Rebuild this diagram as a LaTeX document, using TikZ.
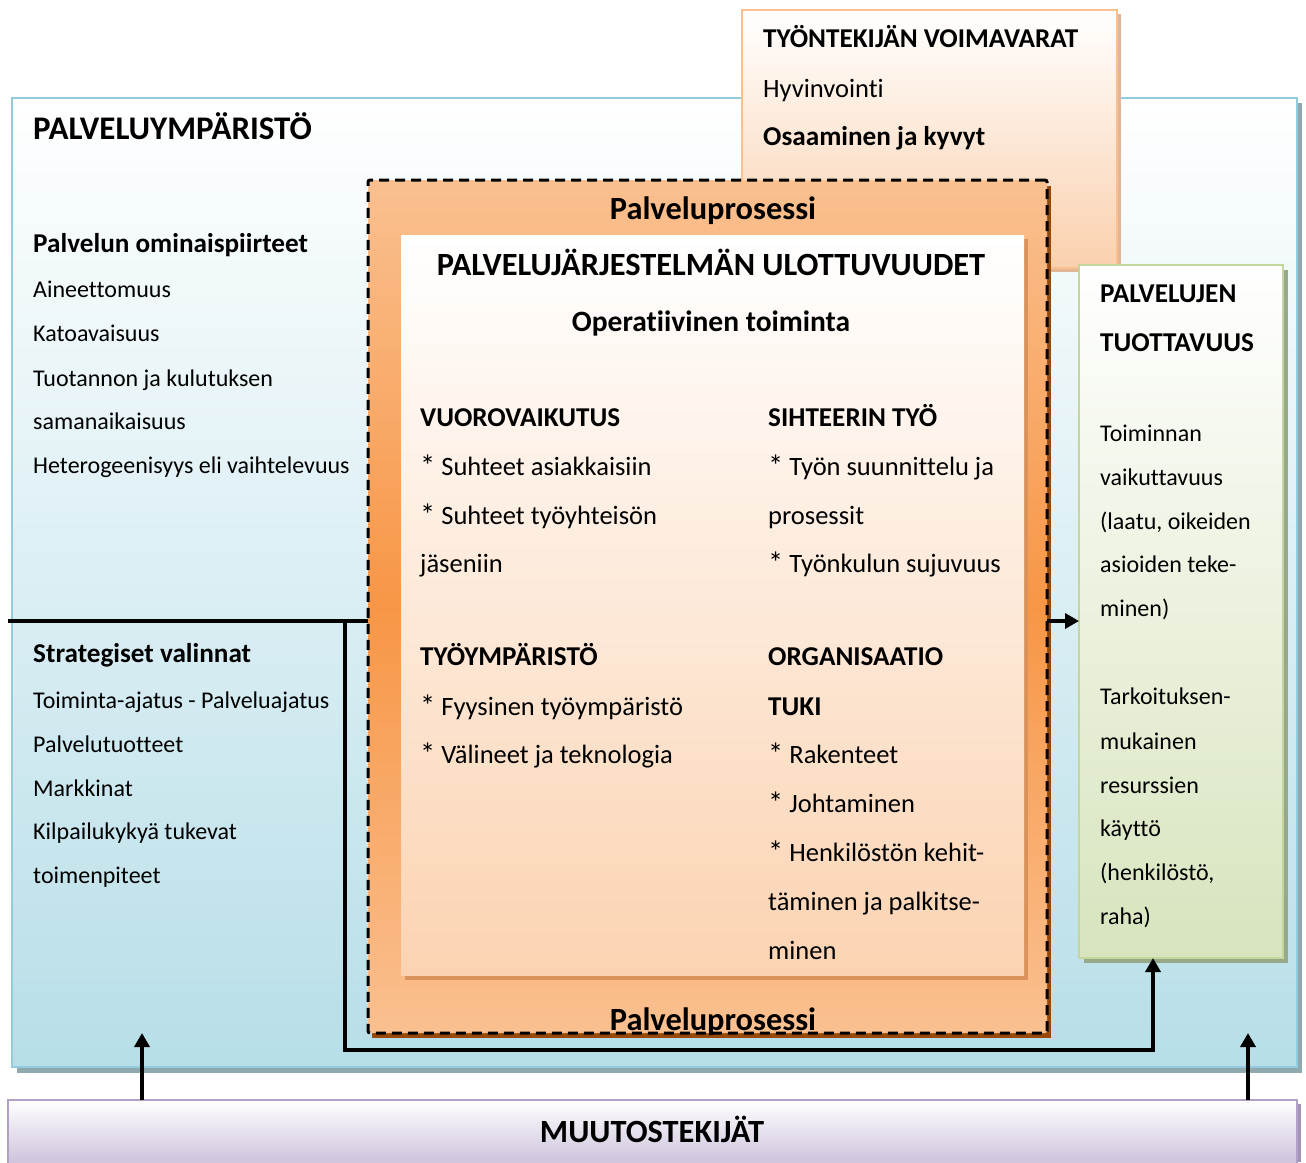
\documentclass[tikz,border=0pt]{standalone}
\usepackage{fontspec}
\usepackage{graphicx}
\setmainfont{Carlito}[Ligatures=NoCommon]
\usetikzlibrary{arrows.meta}
\newcommand\itemstar{\raisebox{-1.5pt}{\scalebox{1.15}{*}}}
\definecolor{envline}{HTML}{93CDDD}
\definecolor{envbot}{HTML}{B7DEE8}
\definecolor{envshadow}{HTML}{8FA9AE}
\definecolor{resline}{HTML}{FAC090}
\definecolor{resbot}{HTML}{FAD0AD}
\definecolor{resshadow}{HTML}{E2B597}
\definecolor{procpale}{HTML}{FAC090}
\definecolor{procdeep}{HTML}{F79646}
\definecolor{procshadow}{HTML}{984807}
\definecolor{dimsbot}{HTML}{FBD3B2}
\definecolor{dimsshadow}{HTML}{D9925A}
\definecolor{prodline}{HTML}{C3D69B}
\definecolor{prodbot}{HTML}{D7E4BD}
\definecolor{prodshadow}{HTML}{97A98A}
\definecolor{chgline}{HTML}{B2A1C7}
\definecolor{chgbot}{HTML}{CCC0DA}
\definecolor{chgshadow}{HTML}{A394B5}
\begin{document}
\begin{tikzpicture}[x=1pt,y=-1pt,
  box/.style={anchor=north west, inner sep=0pt, outer sep=0pt},
  txt/.style={anchor=base west, inner sep=0pt, font=\fontsize{24}{28}\selectfont},
  txtm/.style={anchor=base west, inner sep=0pt, font=\fontsize{26.5}{30}\selectfont},
  txtb/.style={anchor=base west, inner sep=0pt, font=\fontsize{27.2}{30}\selectfont\bfseries},
  ttl/.style={inner sep=0pt, font=\fontsize{32.4}{35}\selectfont\bfseries},
  conn/.style={line width=3.7pt, draw=black},
  arr/.style={conn, -{Triangle[width=15pt,length=14pt]}},
]
\useasboundingbox (0,0) rectangle (1306,1162);

% service environment
\fill[envshadow] (17,103) rectangle (1302,1073);
\node[box, draw=envline, line width=2pt, top color=white, bottom color=envbot,
  minimum width=1285pt, minimum height=969pt] (env) at (12,98) {};

% employee resources
\fill[resshadow] (746,14) rectangle (1121,272);
\node[box, draw=resline, line width=2pt, top color=white, bottom color=resbot,
  minimum width=375pt, minimum height=258pt] (res) at (742,10) {};

% service productivity
\fill[prodshadow] (1084,270) rectangle (1288,963);
\node[box, draw=prodline, line width=2.5pt, top color=white, bottom color=prodbot,
  minimum width=204pt, minimum height=693pt] (prod) at (1079,265) {};

% service process frame
\fill[procshadow] (372,186) rectangle (1051,1038);
\node[box, draw=black, line width=3pt, dash pattern=on 10pt off 6pt, rounded corners=2pt,
  top color=procpale, bottom color=procpale, middle color=procdeep,
  minimum width=679pt, minimum height=853pt] (proc) at (368,180) {};

% dimensions of the service system
\fill[dimsshadow] (405,239) rectangle (1028,980);
\node[box, top color=white, bottom color=dimsbot,
  minimum width=623pt, minimum height=740pt] (dims) at (401,235) {};

% factors of change
\fill[chgshadow] (12,1104) rectangle (1301,1162);
\node[box, draw=chgline, line width=2pt, top color=white, bottom color=chgbot,
  minimum width=1289pt, minimum height=66pt] (chg) at (8,1100) {};

% connectors
\coordinate (lstart) at (8,621);
\coordinate (branch) at (345,621);
\coordinate (turn) at (1153,1050);
\coordinate (upL) at (142,1033);
\coordinate (upR) at (1248,1033);
\draw[conn] (lstart) -- (lstart -| proc.west);
\draw[arr] (branch) |- (turn) -- (turn |- prod.south);
\draw[arr] (proc.east |- lstart) -- (prod.west |- lstart);
\draw[arr] (chg.north -| upL) -- (upL);
\draw[arr] (chg.north -| upR) -- (upR);

% texts: service environment
\node[ttl, anchor=base west, font=\fontsize{33}{35}\selectfont\bfseries] (envT) at (33,139) {PALVELUYMPÄRISTÖ};
\node[txtb] (envA) at (33,252) {Palvelun ominaispiirteet};
\node[txt] (envA1) at (33,297) {Aineettomuus};
\node[txt] (envA2) at (33,341) {Katoavaisuus};
\node[txt] (envA3) at (33,386) {Tuotannon ja kulutuksen};
\node[txt] (envA4) at (33,429) {samanaikaisuus};
\node[txt] (envA5) at (33,473) {Heterogeenisyys eli vaihtelevuus};
\node[txtb] (envB) at (33,662) {Strategiset valinnat};
\node[txt] (envB1) at (33,708) {Toiminta-ajatus - Palveluajatus};
\node[txt] (envB2) at (33,752) {Palvelutuotteet};
\node[txt] (envB3) at (33,796) {Markkinat};
\node[txt] (envB4) at (33,839) {Kilpailukykyä tukevat};
\node[txt] (envB5) at (33,883) {toimenpiteet};

% texts: employee resources
\node[txtb] (resT) at (763,47) {TYÖNTEKIJÄN VOIMAVARAT};
\node[txtm] (res1) at (763,97) {Hyvinvointi};
\node[txtb] (res2) at (763,145) {Osaaminen ja kyvyt};

% texts: service process
\node[ttl, anchor=base] (procT) at (713,219) {Palveluprosessi};
\node[ttl, anchor=base] (procB) at (713,1030) {Palveluprosessi};
\node[ttl, anchor=base] (dimsT) at (711,275) {PALVELUJÄRJESTELMÄN ULOTTUVUUDET};
\node[txtb, anchor=base, font=\fontsize{29.5}{32}\selectfont\bfseries] (dimsS) at (711,331) {Operatiivinen toiminta};

\node[txtb] (v0) at (420,426) {VUOROVAIKUTUS};
\node[txtm] (v1) at (420,475) {\itemstar{} Suhteet asiakkaisiin};
\node[txtm] (v2) at (420,524) {\itemstar{} Suhteet työyhteisön};
\node[txtm] (v3) at (420,572) {jäseniin};
\node[txtb] (w0) at (420,665) {TYÖYMPÄRISTÖ};
\node[txtm] (w1) at (420,715) {\itemstar{} Fyysinen työympäristö};
\node[txtm] (w2) at (420,763) {\itemstar{} Välineet ja teknologia};

\node[txtb] (s0) at (768,426) {SIHTEERIN TYÖ};
\node[txtm] (s1) at (768,475) {\itemstar{} Työn suunnittelu ja};
\node[txtm] (s2) at (768,524) {prosessit};
\node[txtm] (s3) at (768,572) {\itemstar{} Työnkulun sujuvuus};
\node[txtb] (o0) at (768,665) {ORGANISAATIO};
\node[txtb] (o1) at (768,715) {TUKI};
\node[txtm] (o2) at (768,763) {\itemstar{} Rakenteet};
\node[txtm] (o3) at (768,812) {\itemstar{} Johtaminen};
\node[txtm] (o4) at (768,861) {\itemstar{} Henkilöstön kehit-};
\node[txtm] (o5) at (768,910) {täminen ja palkitse-};
\node[txtm] (o6) at (768,959) {minen};

% texts: service productivity
\node[txtb] (prodT1) at (1100,302) {PALVELUJEN};
\node[txtb] (prodT2) at (1100,351) {TUOTTAVUUS};
\node[txt] (p1) at (1100,441) {Toiminnan};
\node[txt] (p2) at (1100,485) {vaikuttavuus};
\node[txt] (p3) at (1100,529) {(laatu, oikeiden};
\node[txt] (p4) at (1100,572) {asioiden teke-};
\node[txt] (p5) at (1100,616) {minen)};
\node[txt] (q1) at (1100,704) {Tarkoituksen-};
\node[txt] (q2) at (1100,749) {mukainen};
\node[txt] (q3) at (1100,793) {resurssien};
\node[txt] (q4) at (1100,836) {käyttö};
\node[txt] (q5) at (1100,880) {(henkilöstö,};
\node[txt] (q6) at (1100,924) {raha)};

% texts: factors of change
\node[ttl, anchor=base] (chgT) at (652,1142) {MUUTOSTEKIJÄT};
\end{tikzpicture}
\end{document}
